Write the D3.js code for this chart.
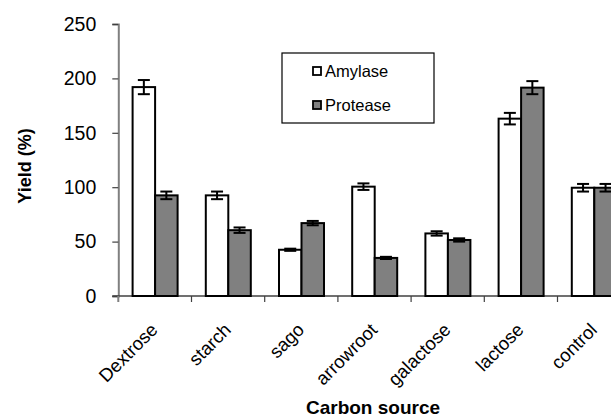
<!DOCTYPE html>
<html><head><meta charset="utf-8">
<script src="https://cdn.jsdelivr.net/npm/d3@7"></script>
<style>body{margin:0;background:#fff}svg{display:block}</style>
</head><body><svg id="c" width="611" height="420"></svg>
<script>
const categories = ["Dextrose","starch","sago","arrowroot","galactose","lactose","control"];
const seriesNames = ["Amylase","Protease"];
const amylase = [192, 92.5, 42.5, 100.5, 57.5, 163, 99.5];
const protease = [92.5, 60.5, 67, 35, 51.5, 191.5, 99.5];
const amylaseErr = [6.5, 3.5, 1, 3, 2, 5.3, 3.5];
const proteaseErr = [3.5, 2.5, 2, 1, 1.5, 6, 3.5];
const yTicks = [0,50,100,150,200,250];
const colors = ["#ffffff","#808080"];

const svg = d3.select("#c");
const x0 = 118.3, bandW = 73.2, y0 = 296, yTop = 24;
const x = d3.scaleBand().domain(categories).range([x0, x0 + bandW*categories.length]).paddingInner(0).paddingOuter(0);
const inner = d3.scaleBand().domain(seriesNames).range([14.3, 14.3+45]);
const y = d3.scaleLinear().domain([0,250]).range([y0, yTop]);
const font = "Liberation Sans, Arial, sans-serif";

// Y axis
const ya = svg.append("g").attr("transform",`translate(${x0},0)`)
  .call(d3.axisLeft(y).tickValues(yTicks).tickSize(6).tickPadding(16));
ya.select(".domain").attr("stroke","#808080").attr("stroke-width",2);
ya.selectAll(".tick line").attr("stroke","#404040").attr("stroke-width",1.2);
ya.selectAll("text").attr("font-family",font).attr("font-size",19.5).attr("fill","#000");

// X axis
svg.append("line").attr("x1",x0-6).attr("x2",611).attr("y1",y0).attr("y2",y0).attr("stroke","#404040").attr("stroke-width",1.5);
svg.selectAll(".xtick").data(categories).enter().append("line")
  .attr("x1",d=>x(d)+bandW).attr("x2",d=>x(d)+bandW)
  .attr("y1",y0).attr("y2",y0+6).attr("stroke","#404040").attr("stroke-width",1.2);
svg.append("line").attr("x1",x0).attr("x2",x0).attr("y1",y0).attr("y2",y0+6).attr("stroke","#808080").attr("stroke-width",2);

svg.selectAll(".xl").data(categories).enter().append("text")
  .attr("transform",d=>`translate(${x(d)+bandW/2+4},${y0+35}) rotate(-45)`)
  .attr("text-anchor","end").attr("font-family",font).attr("font-size",18.5)
  .text(d=>d);

// Bars
const data = [];
categories.forEach((c,i)=>{
  data.push({c, s:"Amylase", v:amylase[i], e:amylaseErr[i], col:colors[0]});
  data.push({c, s:"Protease", v:protease[i], e:proteaseErr[i], col:colors[1]});
});
const g = svg.append("g");
g.selectAll("rect").data(data).enter().append("rect")
  .attr("x",d=>x(d.c)+inner(d.s)).attr("width",inner.bandwidth())
  .attr("y",d=>y(d.v)).attr("height",d=>y0-y(d.v))
  .attr("fill",d=>d.col).attr("stroke","#000").attr("stroke-width",2);
// Error bars
const eb = g.selectAll(".eb").data(data).enter().append("g");
const cx = d=>x(d.c)+inner(d.s)+inner.bandwidth()/2;
eb.append("line").attr("x1",cx).attr("x2",cx)
  .attr("y1",d=>y(d.v+d.e)).attr("y2",d=>y(d.v-d.e)).attr("stroke","#000").attr("stroke-width",2);
[1,-1].forEach(s=>{
  eb.append("line").attr("x1",d=>cx(d)-6).attr("x2",d=>cx(d)+6)
    .attr("y1",d=>y(d.v+s*d.e)).attr("y2",d=>y(d.v+s*d.e)).attr("stroke","#000").attr("stroke-width",2);
});

// Legend
const lg = svg.append("g");
lg.append("rect").attr("x",282).attr("y",53).attr("width",152).attr("height",70).attr("fill","#fff").attr("stroke","#000").attr("stroke-width",1.2);
seriesNames.forEach((s,i)=>{
  const yy = 71 + i*34;
  lg.append("rect").attr("x",313).attr("y",yy-4).attr("width",8).attr("height",8).attr("fill",colors[i]).attr("stroke","#000").attr("stroke-width",1.8);
  lg.append("text").attr("x",325).attr("y",yy+6).attr("font-family",font).attr("font-size",16.5).text(s);
});

// Axis titles
svg.append("text").attr("x",373).attr("y",414).attr("text-anchor","middle").attr("font-family",font)
  .attr("font-weight","bold").attr("font-size",19).text("Carbon source");
svg.append("text").attr("transform","translate(31,166) rotate(-90)").attr("text-anchor","middle").attr("font-family",font)
  .attr("font-weight","bold").attr("font-size",18).text("Yield (%)");
</script></body></html>
